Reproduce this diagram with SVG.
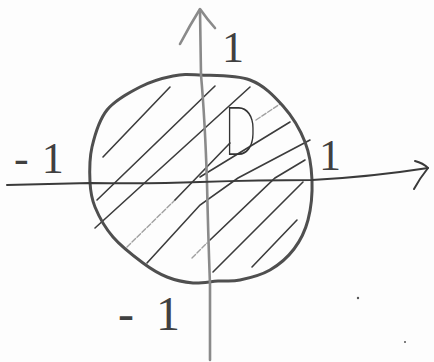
<svg xmlns="http://www.w3.org/2000/svg" width="434" height="362" viewBox="0 0 434 362">
<style>
.bg{fill:#fdfdfd}
.circ{fill:none;stroke:#4f4f4f;stroke-width:3;stroke-linecap:round;stroke-linejoin:round}
.vax{fill:none;stroke:#8a8a8a;stroke-width:2.6;stroke-linecap:round;stroke-linejoin:round}
.hax{fill:none;stroke:#3a3a3a;stroke-width:2;stroke-linecap:round;stroke-linejoin:round}
.h{fill:none;stroke:#3c3c3c;stroke-width:1.6;stroke-linecap:round}
.hf{fill:none;stroke:#a0a0a0;stroke-width:1.4;stroke-linecap:round;stroke-dasharray:5 2}
.num{font-family:"Liberation Serif",serif;fill:#404040}
.lbl{font-family:Roboto,"Liberation Sans",sans-serif;font-weight:100;fill:#333}
</style>
<rect class="bg" x="0" y="0" width="434" height="362"/>
<g id="hatching">
<path class="h" d="M103,157 L170,87"/>
<path class="h" d="M97,200 L215,86"/>
<path class="h" d="M95,228 L250,87"/>
<path class="hf" d="M127,247 L175,200"/>
<path class="h" d="M175,200 L230,143"/>
<path class="hf" d="M256,120 L280,104"/>
<path class="h" d="M200,177 L290,122"/>
<path class="h" d="M147,263 L200,205 L238,178 L310,140"/>
<path class="hf" d="M192,258 L207,243"/>
<path class="h" d="M210,240 L275,178 L305,160"/>
<path class="h" d="M213,272 L303,182"/>
<path class="h" d="M252,267 L297,220"/>
</g>
<g id="region-D">
<path class="circ" d="M200,75 C212.8,75.7 236.2,74.8 250,80 C263.8,85.2 273.8,95.7 283,106 C292.2,116.3 300.2,129.7 305,142 C309.8,154.3 311.5,167 312,180 C312.5,193 311,208.5 308,220 C305,231.5 300.3,240.7 294,249 C287.7,257.3 279,264.8 270,270 C261,275.2 248.7,278.2 240,280 C231.3,281.8 225.8,280.5 218,281 C210.2,281.5 201.5,283.7 193,283 C184.5,282.3 175.3,280.3 167,277 C158.7,273.7 152,269.7 143,263 C134,256.3 121,246.3 113,237 C105,227.7 98.8,216.2 95,207 C91.2,197.8 90.5,192 90,182 C89.5,172 89.2,159 92,147 C94.8,135 99,120 107,110 C115,100 129,92.7 140,87 C151,81.3 163,78 173,76 C183,74 187.2,74.3 200,75 Z"/>
</g>
<g id="axes">
<path id="y-axis" class="vax" d="M210,360 L210,285 Q208,230 207,183 Q205,120 201,75 L200,10"/>
<path class="vax" d="M180,44 Q190,25 200,9 Q207,19 215,28"/>
<path id="x-axis" class="hax" d="M7,185 L90,183 Q150,184 200,182 Q260,180 312,180 Q370,177 428,168"/>
<path class="hax" d="M415,161 Q423,163 428,168 Q420,178 414,189"/>
</g>
<g id="labels">
<text class="num" x="233" y="62" font-size="44" text-anchor="middle">1</text>
<text class="num" x="14" y="173" font-size="44">-<tspan dx="13">1</tspan></text>
<text class="num" x="330" y="170" font-size="44" text-anchor="middle">1</text>
<text class="num" x="118" y="330" font-size="48">-<tspan dx="22">1</tspan></text>
<text class="lbl" x="224" y="155" font-size="66" textLength="33" lengthAdjust="spacingAndGlyphs">D</text>
</g>
<g id="specks" fill="#555">
<circle cx="358" cy="298" r="1.2"/>
<circle cx="405" cy="342" r="1"/>
</g>
</svg>
